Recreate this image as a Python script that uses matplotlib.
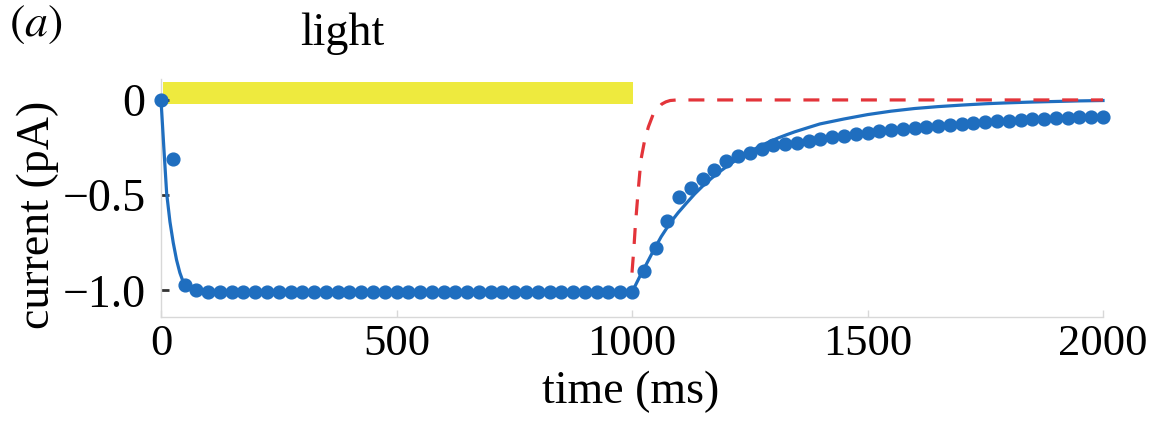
import matplotlib
matplotlib.use("Agg")
import matplotlib.pyplot as plt
from matplotlib.patches import Rectangle

plt.rcParams['font.family'] = ['Liberation Serif', 'DejaVu Serif']
plt.rcParams['mathtext.fontset'] = 'stix'

# ---- data ----
dot_time = list(range(0, 2001, 25))
dot_current = ([0.0, -0.31, -0.97, -1.00] + [-1.01] * 37 +
               [-0.90, -0.776, -0.637, -0.51, -0.462, -0.415, -0.366, -0.319,
                -0.297, -0.279, -0.258, -0.239, -0.23, -0.224, -0.215,
                -0.205, -0.196, -0.188, -0.180, -0.172, -0.165, -0.158, -0.152,
                -0.146, -0.140, -0.135, -0.130, -0.125, -0.121, -0.117, -0.113,
                -0.109, -0.105, -0.102, -0.099, -0.096, -0.093, -0.091, -0.089,
                -0.087])

fit_time = [0, 6, 12, 19, 26, 33, 40, 47, 54, 65, 80, 1000,
            1010, 1020, 1030, 1045, 1062, 1081, 1098, 1116, 1133, 1151, 1169, 1187,
            1205, 1222, 1240, 1257, 1275, 1293, 1310, 1328, 1346, 1364, 1382, 1399,
            1450, 1500, 1550, 1600, 1650, 1700, 1750, 1800, 1850, 1900, 1950, 2000]
fit_current = [0.0, -0.25, -0.49, -0.64, -0.75, -0.84, -0.907, -0.955, -0.986, -1.0, -1.01, -1.01,
               -0.96, -0.91, -0.865, -0.794, -0.718, -0.646, -0.592, -0.541, -0.494, -0.450,
               -0.411, -0.375, -0.343, -0.314, -0.287, -0.262, -0.239, -0.218, -0.200,
               -0.183, -0.167, -0.153, -0.139, -0.126,
               -0.100, -0.077, -0.059, -0.045, -0.035, -0.027, -0.020, -0.015, -0.011,
               -0.008, -0.005, -0.003]

alt_time = [1000, 1004, 1007, 1013, 1019, 1027, 1035, 1045, 1055, 1063, 1072, 1081, 1095, 2000]
alt_current = [-0.907, -0.78, -0.663, -0.48, -0.314, -0.21, -0.14, -0.075, -0.045, -0.022,
               -0.01, -0.003, 0.0, 0.0]

light_start, light_stop = 5, 1003
light_low, light_high = -0.02, 0.095

x_ticks = [0, 500, 1000, 1500, 2000]
x_ticklabels = ['0', '500', '1000', '1500', '2000']
y_ticks = [0, -0.5, -1.0]
y_ticklabels = ['0', '\u22120.5', '\u22121.0']

blue = '#1f6ebf'
red = '#e3343a'
yellow = '#eeea3e'

# ---- figure ----
fig = plt.figure(figsize=(11.61, 4.38), dpi=100)
ax = fig.add_axes([161 / 1161, 1 - 317 / 438, (1103 - 161) / 1161, (317 - 79) / 438])

ax.add_patch(Rectangle((light_start, light_low), light_stop - light_start,
                       light_high - light_low, facecolor=yellow, edgecolor='none', zorder=1))

ax.plot(fit_time, fit_current, color=blue, lw=2.3, zorder=3, clip_on=False)
ax.plot(dot_time, dot_current, 'o', color=blue, ms=9.2, zorder=4, clip_on=False)
ax.plot(alt_time, alt_current, color=red, lw=2.3, dashes=(5, 4), zorder=5, clip_on=False)

ax.set_xlim(0, 2000)
ax.set_ylim(-1.14, 0.11)

for s in ['top', 'right']:
    ax.spines[s].set_visible(False)
for s in ['left', 'bottom']:
    ax.spines[s].set_color('#d8d8d8')
    ax.spines[s].set_linewidth(1.0)

ax.set_xticks(x_ticks)
ax.set_xticklabels(x_ticklabels)
ax.set_yticks(y_ticks)
ax.set_yticklabels(y_ticklabels)
ax.tick_params(axis='x', direction='in', length=5, width=1, color='#d8d8d8',
               labelsize=32, pad=5)
ax.tick_params(axis='y', direction='in', length=6, width=2, color='#333333',
               labelsize=33, pad=11)

fig.text(631 / 1161, 1 - 403 / 438, 'time (ms)', fontsize=33, ha='center', va='baseline')
fig.text(38 / 1161, 1 - 215 / 438, 'current (pA)', fontsize=33, ha='center', va='center',
         rotation=90)
fig.text(342 / 1161, 1 - 45 / 438, 'light', fontsize=33, ha='center', va='baseline')
fig.text(9 / 1161, 1 - 36 / 438, r'$(\mathit{a})$', fontsize=33, ha='left', va='baseline')

fig.savefig('out.png', dpi=100)
